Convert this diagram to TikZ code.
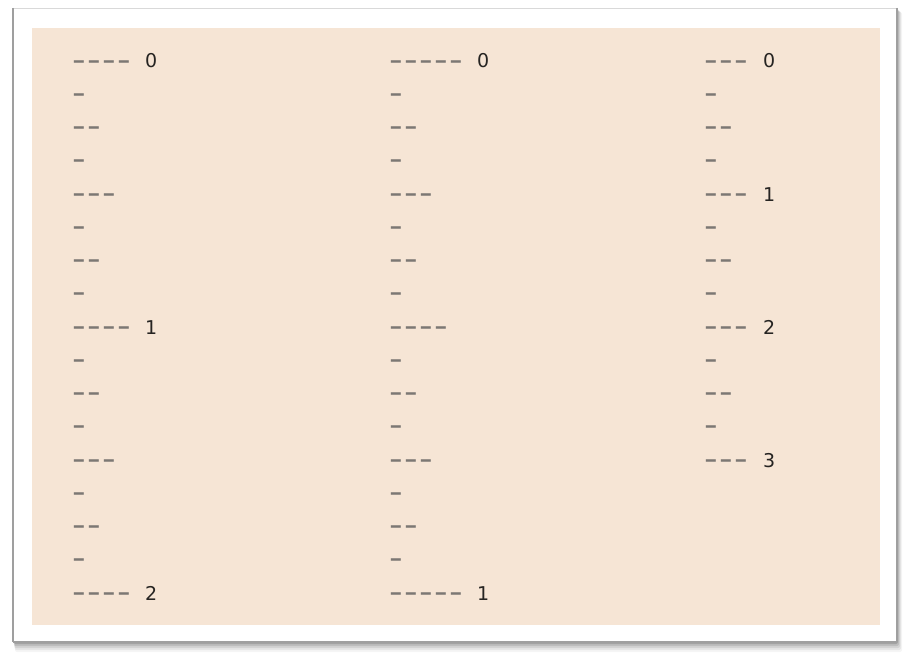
\documentclass[tikz,border=0pt]{standalone}
\usepackage{fontspec}
\newfontfamily\numfont{DejaVu Sans}
\definecolor{beige}{HTML}{F6E5D5}
\definecolor{dashgray}{HTML}{7C7874}
\definecolor{numgray}{HTML}{262422}
\newcommand\dsh{\makebox[14.9pt][l]{\hspace{-1.7pt}\raisebox{-2.2pt}{\scalebox{1.4}[1.15]{-}}}}
\begin{document}
\begin{tikzpicture}[x=1pt,y=-1pt,
  dashes/.style={anchor=base west, inner sep=0pt, text height=9pt, text depth=0pt, font=\numfont\fontsize{27}{27}\selectfont, text=dashgray},
  num/.style={anchor=base west, inner sep=0pt, text height=14pt, text depth=0pt, font=\numfont\fontsize{19}{19}\selectfont, text=numgray}]
\useasboundingbox (0,0) rectangle (911,661);
\fill[white] (0,0) rectangle (911,661);
% shadow
\foreach \o/\op in {10/0.04,8/0.06,6/0.08,4/0.1,2/0.14}
  \fill[black,opacity=\op,rounded corners=2pt] (13+\o*0.2,8+\o*0.4) rectangle (897+\o*0.5,642+\o);
% card
\node[coordinate] (cardnw) at (13,8) {};
\node[coordinate] (cardse) at (897,642) {};
\fill[white] (cardnw) rectangle (cardse);
\draw[gray!30,line width=0.8pt] (cardnw) -- (897,8);
\draw[gray!75,line width=1.6pt] (cardnw) -- (13,642);
\draw[gray!75,line width=1.6pt] (897,8) -- (cardse);
\draw[gray!75,line width=1.4pt] (13,642) -- (cardse);
\fill[beige] (32,28) rectangle (880,625);
% column 1
\foreach \s [count=\i from 0] in {\dsh\dsh\dsh\dsh,\dsh,\dsh\dsh,\dsh,\dsh\dsh\dsh,\dsh,\dsh\dsh,\dsh,\dsh\dsh\dsh\dsh,\dsh,\dsh\dsh,\dsh,\dsh\dsh\dsh,\dsh,\dsh\dsh,\dsh,\dsh\dsh\dsh\dsh}
  \node[dashes] (a\i) at (74,68+33.25*\i) {\s};
\node[num] (na0) at (145,68) {0};
\node[num] (na8) at (145,68+33.25*8) {1};
\node[num] (na16) at (145,68+33.25*16) {2};
% column 2
\foreach \s [count=\i from 0] in {\dsh\dsh\dsh\dsh\dsh,\dsh,\dsh\dsh,\dsh,\dsh\dsh\dsh,\dsh,\dsh\dsh,\dsh,\dsh\dsh\dsh\dsh,\dsh,\dsh\dsh,\dsh,\dsh\dsh\dsh,\dsh,\dsh\dsh,\dsh,\dsh\dsh\dsh\dsh\dsh}
  \node[dashes] (b\i) at (391,68+33.25*\i) {\s};
\node[num] (nb0) at (477,68) {0};
\node[num] (nb16) at (477,68+33.25*16) {1};
% column 3
\foreach \s [count=\i from 0] in {\dsh\dsh\dsh,\dsh,\dsh\dsh,\dsh,\dsh\dsh\dsh,\dsh,\dsh\dsh,\dsh,\dsh\dsh\dsh,\dsh,\dsh\dsh,\dsh,\dsh\dsh\dsh}
  \node[dashes] (c\i) at (706,68+33.25*\i) {\s};
\node[num] (nc0) at (763,68) {0};
\node[num] (nc4) at (763,68+33.25*4) {1};
\node[num] (nc8) at (763,68+33.25*8) {2};
\node[num] (nc12) at (763,68+33.25*12) {3};
\end{tikzpicture}
\end{document}
